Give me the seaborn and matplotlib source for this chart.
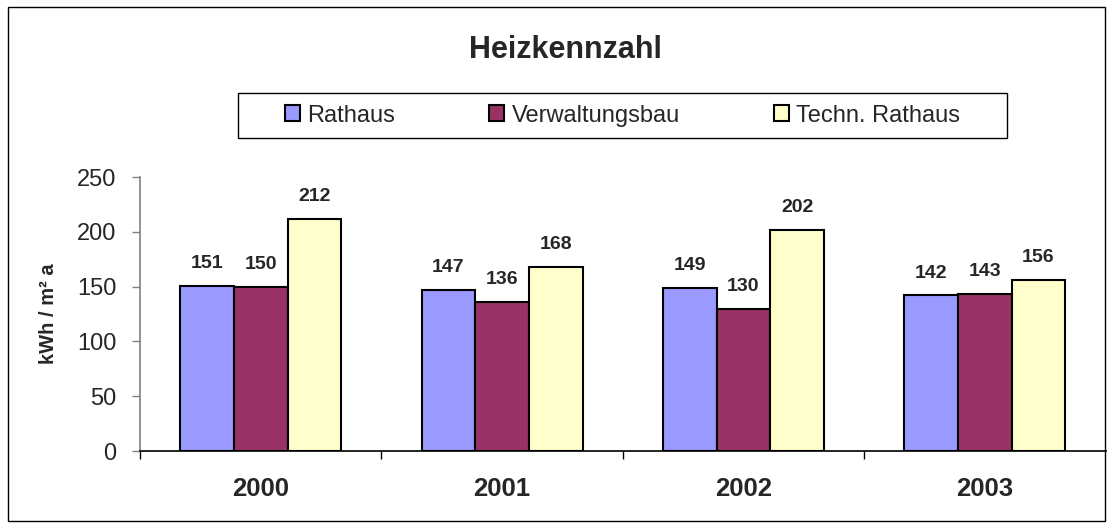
import matplotlib
matplotlib.use("Agg")
import matplotlib.pyplot as plt
import seaborn as sns
import pandas as pd
from matplotlib.patches import Rectangle

years = ["2000", "2001", "2002", "2003"]
series = ["Rathaus", "Verwaltungsbau", "Techn. Rathaus"]
rathaus = [151, 147, 149, 142]
verwaltungsbau = [150, 136, 130, 143]
techn_rathaus = [212, 168, 202, 156]
colors = ["#9999FF", "#993366", "#FFFFCC"]
yticks = [0, 50, 100, 150, 200, 250]

rows = []
for name, vals in zip(series, [rathaus, verwaltungsbau, techn_rathaus]):
    for y, v in zip(years, vals):
        rows.append({"Jahr": y, "Gebäude": name, "Wert": v})
df = pd.DataFrame(rows)

sns.set_theme(style="white")
plt.rcParams["font.family"] = ["Liberation Sans", "DejaVu Sans"]

fig = plt.figure(figsize=(11.14, 5.27), dpi=100)
ax = fig.add_axes([0.1257, 0.1442, 0.8667, 0.5198])

sns.barplot(data=df, x="Jahr", y="Wert", hue="Gebäude", order=years,
            hue_order=series, palette=colors, width=0.667, saturation=1,
            edgecolor="black", linewidth=1.5, ax=ax, errorbar=None)

for c in ax.containers:
    ax.bar_label(c, padding=10, fontsize=14, fontweight="bold")

ax.set_ylim(0, 250)
ax.set_yticks(yticks)
ax.set_xlim(-0.5, 3.5)
ax.set_xlabel("")
ax.set_ylabel("kWh / m² a", fontsize=14.5, fontweight="bold", labelpad=14)
ax.tick_params(axis="y", labelsize=17, length=6, direction="out", left=True,
               color="#808080", width=1, pad=11)
ax.tick_params(axis="x", which="major", labelsize=18.5, length=0, pad=19)
for t in ax.get_xticklabels():
    t.set_fontweight("bold")
ax.set_xticks([-0.5, 0.5, 1.5, 2.5], minor=True)
ax.tick_params(axis="x", which="minor", length=6, direction="out", bottom=True,
               color="black", width=1)
for s in ["top", "right"]:
    ax.spines[s].set_visible(False)
ax.spines["left"].set_color("#808080")
ax.spines["left"].set_linewidth(1.2)
ax.spines["bottom"].set_color("black")
ax.spines["bottom"].set_linewidth(1.2)

handles, labels = ax.get_legend_handles_labels()
ax.get_legend().remove()
lg = fig.legend(handles, labels, ncol=3, loc="center",
                bbox_to_anchor=(0.5589, 0.7808),
                bbox_transform=fig.transFigure,
                frameon=False, fontsize=17, handlelength=0.64, handleheight=0.64,
                handletextpad=0.3, columnspacing=4.0, borderaxespad=0, borderpad=0)

fig.patches.append(Rectangle((0.2136, 0.7381), 0.6903, 0.0854, transform=fig.transFigure,
                             fill=False, edgecolor="black", linewidth=1.0))

fig.text(0.508, 0.890, "Heizkennzahl", ha="center", va="baseline",
         fontsize=22, fontweight="bold")

fig.patches.append(Rectangle((0.007, 0.011), 0.985, 0.976, transform=fig.transFigure,
                             fill=False, edgecolor="black", linewidth=1.0))

fig.savefig("out.png", dpi=100, facecolor="white")
